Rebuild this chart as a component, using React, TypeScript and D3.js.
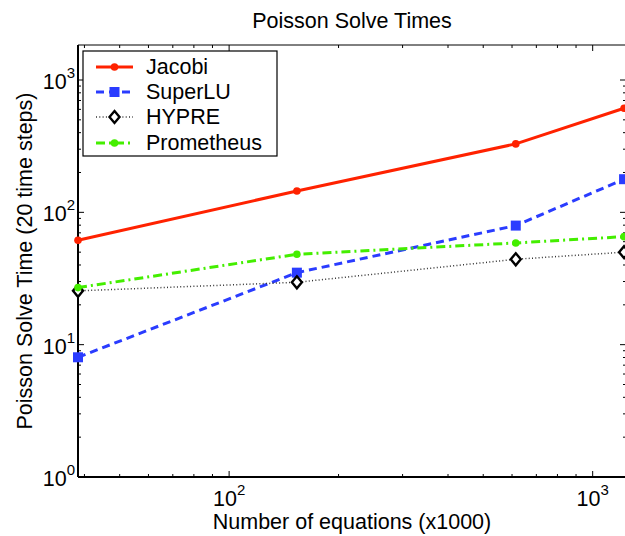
import React from "react";
import * as d3 from "d3";

const xValues = [38.4, 153.6, 614.4, 1220];
const jacobi = [61.5, 145, 329, 612];
const superLU = [8.03, 35, 79.4, 178];
const hypre = [25.5, 29.6, 44.2, 50];
const prometheus = [27, 48.2, 58.7, 65.5];
const seriesNames = ["Jacobi", "SuperLU", "HYPRE", "Prometheus"];
const title = "Poisson Solve Times";
const xLabel = "Number of equations (x1000)";
const yLabel = "Poisson Solve Time (20 time steps)";

const W = 625, H = 536;
const L = 78, R = 626, T = 45, B = 477;
const FONT = "'Liberation Sans', Arial, Helvetica, sans-serif";
const FS = 21.5;

export default function App() {
  const x = d3.scaleLog().domain([38.4, 1235]).range([L, R]);
  const y = d3.scaleLog().domain([1, Math.pow(10, 3 + (80 - 45) / 132.33)]).range([B, T]);

  const series = [
    { name: seriesNames[0], vals: jacobi, color: "#ff2200", width: 3, dash: "none", marker: "dot" },
    { name: seriesNames[1], vals: superLU, color: "#2a3cff", width: 3, dash: "8,5", marker: "square" },
    { name: seriesNames[2], vals: hypre, color: "#333", width: 1.5, dash: "1,2.3", marker: "diamond" },
    { name: seriesNames[3], vals: prometheus, color: "#44ee00", width: 3, dash: "9,4,2,4", marker: "dot" },
  ];

  const line = d3.line<[number, number]>().x((d) => x(d[0])).y((d) => y(d[1]));

  const xMajor = [100, 1000];
  const xMinor: number[] = [];
  for (let d = 10; d <= 1000; d *= 10) for (let k = 2; k <= 9; k++) {
    const v = d * k;
    if (v >= 38.4 && v <= 1235 && !xMajor.includes(v)) xMinor.push(v);
  }
  const yMajor = [1, 10, 100, 1000];
  const yMinor: number[] = [];
  for (let d = 1; d <= 1000; d *= 10) for (let k = 2; k <= 9; k++) {
    const v = d * k;
    if (v <= y.domain()[1]) yMinor.push(v);
  }

  const marker = (m: string, cx: number, cy: number, color: string, key: string) => {
    if (m === "dot") return <circle key={key} cx={cx} cy={cy} r={3.8} fill={color} />;
    if (m === "square") return <rect key={key} x={cx - 5} y={cy - 5} width={10} height={10} fill={color} />;
    return (
      <path key={key} d={`M${cx},${cy - 6} L${cx + 5},${cy} L${cx},${cy + 6} L${cx - 5},${cy} Z`} fill="#fff" stroke="#000" strokeWidth={2.4} />
    );
  };

  const legX = 83, legY = 51, legW = 194, legH = 105;
  const rowY = [67, 92, 117, 143];

  return (
    <svg width={W} height={H} style={{ position: "absolute", left: 0, top: 0, background: "#fff" }} fontFamily={FONT}>
      <rect x={0} y={0} width={W} height={H} fill="#fff" />
      <text x={352} y={28} textAnchor="middle" fontSize={FS}>{title}</text>
      {/* ticks */}
      <g stroke="#000" strokeWidth={1}>
        {xMajor.map((v) => (
          <g key={"xM" + v}>
            <line x1={x(v)} x2={x(v)} y1={B} y2={B - 6} />
            <line x1={x(v)} x2={x(v)} y1={T} y2={T + 6} />
          </g>
        ))}
        {xMinor.map((v) => (
          <g key={"xm" + v}>
            <line x1={x(v)} x2={x(v)} y1={B} y2={B - 3} />
            <line x1={x(v)} x2={x(v)} y1={T} y2={T + 3} />
          </g>
        ))}
        {yMajor.map((v) => (
          <g key={"yM" + v}>
            <line x1={L} x2={L + 6} y1={y(v)} y2={y(v)} />
            <line x1={R} x2={R - 6} y1={y(v)} y2={y(v)} />
          </g>
        ))}
        {yMinor.map((v) => (
          <g key={"ym" + v}>
            <line x1={L} x2={L + 3} y1={y(v)} y2={y(v)} />
            <line x1={R} x2={R - 3} y1={y(v)} y2={y(v)} />
          </g>
        ))}
      </g>
      {/* axes box */}
      <line x1={L} x2={L} y1={T} y2={B} stroke="#000" strokeWidth={2} />
      <line x1={L} x2={R} y1={B} y2={B} stroke="#000" strokeWidth={2} />
      <line x1={L} x2={R} y1={T} y2={T} stroke="#000" strokeWidth={1} />
      <line x1={R} x2={R} y1={T} y2={B} stroke="#000" strokeWidth={1} />
      {/* tick labels */}
      {yMajor.map((v, i) => (
        <text key={"yl" + v} x={L - 3} y={y(v) + 9} textAnchor="end" fontSize={FS}>
          10<tspan dy={-11} fontSize={15}>{i}</tspan>
        </text>
      ))}
      {xMajor.map((v, i) => (
        <text key={"xl" + v} x={x(v)} y={B + 29} textAnchor="middle" fontSize={FS}>
          10<tspan dy={-11} fontSize={15}>{i + 2}</tspan>
        </text>
      ))}
      <text x={352} y={529} textAnchor="middle" fontSize={FS}>{xLabel}</text>
      <text transform={`translate(32,${(T + B) / 2}) rotate(-90)`} textAnchor="middle" fontSize={FS}>{yLabel}</text>
      {/* series */}
      {series.map((s) => {
        const pts: [number, number][] = xValues.map((xv, i) => [xv, s.vals[i]]);
        return (
          <g key={s.name}>
            <path d={line(pts) || ""} fill="none" stroke={s.color} strokeWidth={s.width} strokeDasharray={s.dash} />
            {pts.map((p, i) => marker(s.marker, x(p[0]), y(p[1]), s.color, s.name + i))}
          </g>
        );
      })}
      {/* legend */}
      <rect x={legX} y={legY} width={legW} height={legH} fill="#fff" stroke="#000" strokeWidth={1.2} />
      {series.map((s, i) => (
        <g key={"leg" + s.name}>
          <line x1={96} x2={133} y1={rowY[i]} y2={rowY[i]} stroke={s.color} strokeWidth={s.width} strokeDasharray={s.dash} />
          {marker(s.marker, 114.5, rowY[i], s.color, "lm" + i)}
          <text x={146} y={rowY[i] + 7} fontSize={FS}>{s.name}</text>
        </g>
      ))}
    </svg>
  );
}
